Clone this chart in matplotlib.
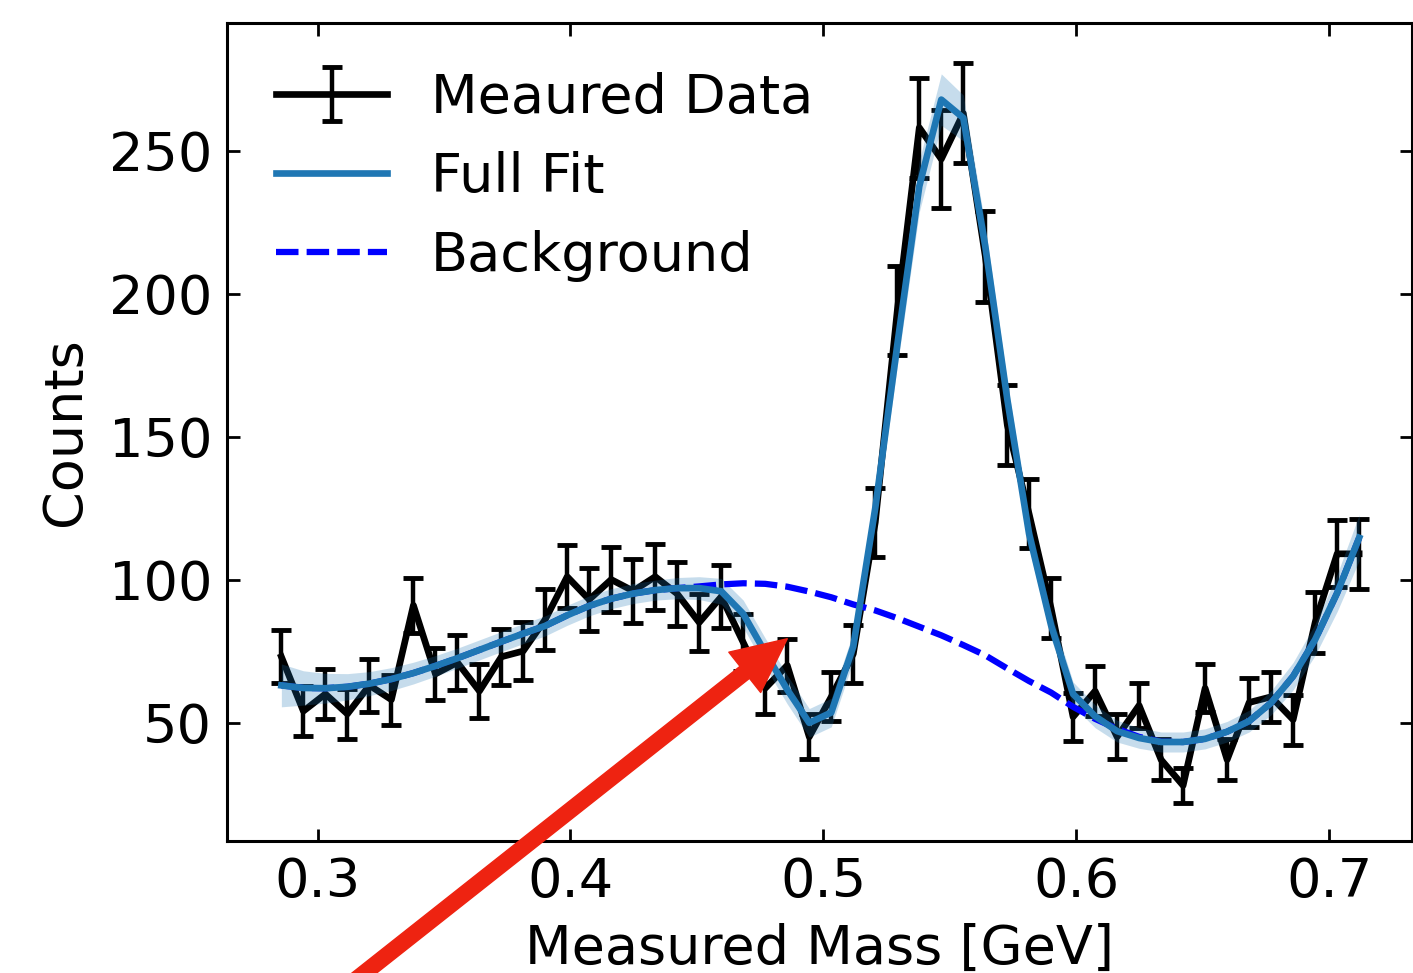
import matplotlib
matplotlib.use("Agg")
import matplotlib.pyplot as plt
import numpy as np

# Bin centres [GeV]
mass = [0.2857, 0.2944, 0.3031, 0.3118, 0.3205, 0.3292, 0.3379, 0.3466, 0.3553, 0.3640,
        0.3727, 0.3813, 0.3900, 0.3987, 0.4074, 0.4161, 0.4248, 0.4335, 0.4422, 0.4509,
        0.4596, 0.4683, 0.4770, 0.4857, 0.4944, 0.5031, 0.5118, 0.5205, 0.5292, 0.5379,
        0.5466, 0.5553, 0.5640, 0.5727, 0.5813, 0.5900, 0.5987, 0.6074, 0.6161, 0.6248,
        0.6335, 0.6422, 0.6509, 0.6596, 0.6683, 0.6770, 0.6857, 0.6944, 0.7031, 0.7118]

# Measured counts per bin and their uncertainties
counts = [73, 54, 60, 53, 63, 58, 91, 67, 71, 61,
          73, 75, 86, 101, 93, 100, 96, 101, 95, 85,
          94, 78, 62, 70, 45, 59, 74, 120, 194, 258,
          247, 263, 213, 154, 123, 90, 52, 61, 45, 56,
          37, 28, 62, 37, 57, 59, 51, 85, 109, 109]
count_err = [9.2, 8.8, 8.8, 8.7, 9.2, 8.8, 9.7, 9.2, 9.7, 9.3,
             9.8, 10.0, 10.7, 11.0, 11.1, 11.3, 11.2, 11.5, 11.3, 9.9,
             11.1, 10.0, 9.0, 9.3, 7.9, 8.6, 10.2, 12.1, 15.5, 17.5,
             17.1, 17.5, 16.0, 13.9, 12.1, 10.6, 8.5, 8.8, 7.9, 8.0,
             7.1, 6.0, 8.3, 7.2, 8.5, 8.7, 8.7, 10.8, 11.7, 12.3]

# Full fit (signal + background) and its 1-sigma half width
fit = [63.0, 62.1, 62.0, 62.5, 63.6, 65.2, 67.3, 69.8, 72.5, 75.4,
       78.3, 81.1, 83.8, 87.5, 90.8, 93.3, 95.1, 96.3, 97.0, 97.0,
       95.9, 88.0, 74.5, 61.5, 49.9, 53.5, 76.6, 125.0, 182.0, 237.5,
       267.8, 261.4, 216.5, 163.0, 116.0, 84.0, 60.0, 52.2, 47.0, 44.6,
       43.2, 43.2, 44.3, 46.8, 50.5, 56.9, 66.2, 79.0, 95.3, 114.6]
fit_sigma = [7.5, 6.0, 5.2, 4.6, 4.2, 4.0, 3.8, 3.6, 3.5, 3.5,
             3.5, 3.5, 3.5, 3.5, 3.5, 3.5, 3.5, 3.5, 3.7, 4.0,
             4.5, 4.8, 5.0, 5.0, 5.0, 5.0, 5.0, 5.5, 7.5, 9.0,
             9.0, 8.0, 7.0, 6.0, 5.0, 4.5, 4.2, 4.0, 3.8, 3.6,
             3.5, 3.5, 3.5, 3.6, 3.8, 4.2, 4.8, 5.5, 6.5, 8.0]

# Background component of the fit
background = [63.0, 62.1, 62.0, 62.5, 63.6, 65.2, 67.3, 69.8, 72.5, 75.4,
              78.3, 81.1, 83.8, 87.5, 90.8, 93.3, 95.1, 96.3, 97.0, 97.6,
              98.3, 98.7, 98.5, 97.5, 95.8, 93.8, 91.3, 89.2, 86.5, 83.5,
              80.5, 77.1, 73.5, 68.9, 64.5, 60.5, 55.5, 51.3, 47.8, 45.0,
              43.3, 43.2, 44.3, 46.8, 50.5, 56.9, 66.2, 79.0, 95.3, 114.6]

plt.rcParams.update({
    "font.family": "DejaVu Sans",
    "font.size": 39,
    "axes.linewidth": 2.2,
})

fig = plt.figure(figsize=(14.13, 9.73), dpi=100)
ax = fig.add_axes([0.1610, 0.1357, 0.8383, 0.8407])

data_h = ax.errorbar(mass, counts, yerr=count_err, color="black", lw=4.8,
                     elinewidth=3.2, capsize=7, capthick=3.5, zorder=2)

fit_arr = np.array(fit)
sig_arr = np.array(fit_sigma)
ax.fill_between(mass, fit_arr - sig_arr, fit_arr + sig_arr, color="#1f77b4",
                alpha=0.25, lw=0, zorder=3)
bg_h, = ax.plot(mass, background, color="blue", lw=4.5, dashes=(3.6, 1.3), zorder=3.5)
fit_h, = ax.plot(mass, fit, color="#1f77b4", lw=4.8, zorder=4)

# arrow pointing at the top of the 0.486 GeV bin
ax.annotate("", xy=(mass[23], counts[23] + count_err[23]), xytext=(0.305, -47),
            arrowprops=dict(color="#ee2311", width=11, headwidth=37, headlength=39),
            annotation_clip=False, zorder=6)

ax.set_xlim(0.2644, 0.7327)
ax.set_ylim(8.6, 294.6)
ax.set_xticks([0.3, 0.4, 0.5, 0.6, 0.7])
ax.set_yticks([50, 100, 150, 200, 250])
ax.tick_params(direction="in", top=True, right=True, length=9, width=2, pad=11)

ax.set_xlabel("Measured Mass [GeV]")
ax.xaxis.set_label_coords(0.5, -0.100)
ax.set_ylabel("Counts")
ax.yaxis.set_label_coords(-0.115, 0.5)

ax.legend([data_h, fit_h, bg_h], ["Meaured Data", "Full Fit", "Background"],
          loc="upper left", frameon=False, handlelength=2.05, labelspacing=0.5,
          handletextpad=0.8, borderaxespad=0.5)

fig.savefig("out.png", dpi=100)
